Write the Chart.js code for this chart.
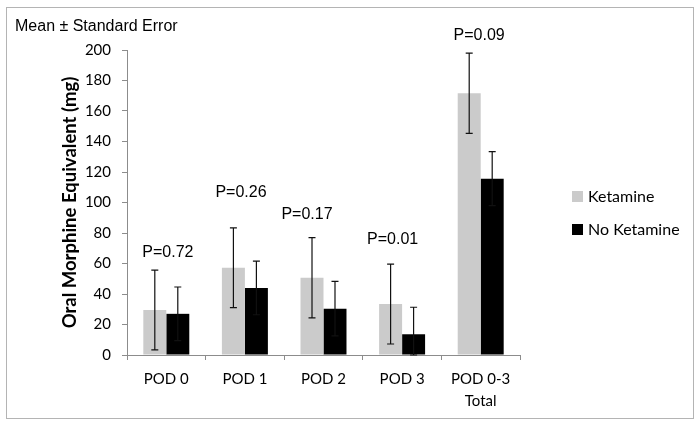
<!DOCTYPE html>
<html>
<head>
<meta charset="utf-8">
<script src="https://cdn.jsdelivr.net/npm/chart.js@4.4.0/dist/chart.umd.min.js"></script>
<style>
  html, body { margin: 0; padding: 0; background: #fff; }
  #frame {
    position: absolute; left: 6px; top: 7px;
    width: 686px; height: 410px;
    border: 1px solid #b4b4b4;
  }
  #chart { display: block; }
</style>
</head>
<body>
<div id="frame"><canvas id="chart" width="686" height="410"></canvas></div>
<script>
// values
const categories = [['POD 0'], ['POD 1'], ['POD 2'], ['POD 3'], ['POD 0-3', 'Total']];
const seriesNames = ['Ketamine', 'No Ketamine'];
const ketamineMean = [29.5, 57.2, 50.7, 33.4, 171.6];
const ketamineSE = [26.2, 26.1, 26.3, 26.2, 26.3];
const noKetamineMean = [27.0, 44.0, 30.4, 13.6, 115.6];
const noKetamineSE = [17.6, 17.6, 17.9, 17.7, 17.7];
const yTicks = [0, 20, 40, 60, 80, 100, 120, 140, 160, 180, 200];

// p-value annotations and their anchors in data space (category index, y value)
const pLabels = ['P=0.72', 'P=0.26', 'P=0.17', 'P=0.01', 'P=0.09'];
const pLabelX = [0.02, 0.95, 1.79, 2.88, 3.98];
const pLabelY = [67, 106.4, 91.8, 75.4, 209.4];

const errorSets = [ketamineSE, noKetamineSE];

// error bars drawn from the SE arrays through the y scale
const errorBars = {
    id: 'errorBars',
    afterDatasetsDraw(chart) {
        const ctx = chart.ctx;
        const y = chart.scales.y;
        ctx.save();
        ctx.strokeStyle = '#111';
        ctx.lineWidth = 1.2;
        chart.data.datasets.forEach((ds, i) => {
            const meta = chart.getDatasetMeta(i);
            meta.data.forEach((bar, j) => {
                const v = ds.data[j], se = errorSets[i][j];
                const top = y.getPixelForValue(v + se);
                const bot = y.getPixelForValue(Math.max(0, v - se));
                const cap = 3.5;
                ctx.beginPath();
                ctx.moveTo(bar.x, top); ctx.lineTo(bar.x, bot);
                ctx.moveTo(bar.x - cap, top); ctx.lineTo(bar.x + cap, top);
                ctx.moveTo(bar.x - cap, bot); ctx.lineTo(bar.x + cap, bot);
                ctx.stroke();
            });
        });
        ctx.restore();
    }
};

const pValueLabels = {
    id: 'pValueLabels',
    afterDraw(chart) {
        const ctx = chart.ctx;
        const x = chart.scales.x, y = chart.scales.y;
        ctx.save();
        ctx.font = '16px "Liberation Sans", Arial, sans-serif';
        ctx.fillStyle = '#000';
        ctx.textAlign = 'center';
        ctx.textBaseline = 'middle';
        pLabels.forEach((t, i) => {
            ctx.fillText(t, x.getPixelForValue(pLabelX[i]), y.getPixelForValue(pLabelY[i]));
        });
        ctx.restore();
    }
};

const sideLegend = {
    id: 'sideLegend',
    afterDraw(chart) {
        const ctx = chart.ctx;
        const left = chart.chartArea.right + 52;
        ctx.save();
        ctx.font = '16px Lato, "Open Sans", sans-serif';
        ctx.textBaseline = 'middle';
        chart.data.datasets.forEach((ds, i) => {
            const cy = 189 + i * 33;
            ctx.fillStyle = ds.backgroundColor;
            ctx.fillRect(left, cy - 6, 11, 11);
            ctx.fillStyle = '#000';
            ctx.fillText(ds.label, left + 16, cy);
        });
        ctx.restore();
    }
};

const chart = new Chart(document.getElementById('chart'), {
    type: 'bar',
    data: {
        labels: categories,
        datasets: [{
            label: seriesNames[0],
            data: ketamineMean,
            backgroundColor: '#cbcbcb',
            categoryPercentage: 0.585,
            barPercentage: 1.0
        }, {
            label: seriesNames[1],
            data: noKetamineMean,
            backgroundColor: '#000000',
            categoryPercentage: 0.585,
            barPercentage: 1.0
        }]
    },
    options: {
        responsive: false,
        animation: false,
        layout: { padding: { left: 8, right: 173, top: 0, bottom: 0 } },
        plugins: {
            legend: { display: false },
            tooltip: { enabled: false },
            title: {
                display: true,
                text: 'Mean \u00b1 Standard Error',
                align: 'start',
                color: '#000',
                font: { family: '"Liberation Sans", Arial, sans-serif', size: 16, weight: 'normal', lineHeight: 1.2 },
                padding: { top: 9.4, bottom: 13.4 }
            }
        },
        scales: {
            x: {
                grid: { display: true, drawOnChartArea: false, offset: true, tickLength: 5, color: '#8c8c8c' },
                border: { color: '#8c8c8c' },
                ticks: {
                    color: '#000',
                    padding: 8,
                    maxRotation: 0,
                    font: { family: 'Lato, "Open Sans", sans-serif', size: 15, lineHeight: 1.47 }
                },
                afterFit(scale) { scale.height = 63; }
            },
            y: {
                min: 0,
                max: 200,
                afterBuildTicks(scale) { scale.ticks = yTicks.map(v => ({ value: v })); },
                grid: { display: true, drawOnChartArea: false, tickLength: 5, color: '#8c8c8c' },
                border: { color: '#8c8c8c' },
                ticks: {
                    color: '#000',
                    padding: 11,
                    font: { family: 'Lato, "Open Sans", sans-serif', size: 15 }
                },
                title: {
                    display: true,
                    text: 'Oral Morphine Equivalent (mg)',
                    color: '#000',
                    padding: { top: 44, bottom: 0 },
                    font: { family: 'Lato, "Open Sans", sans-serif', size: 18.5, weight: 'bold', lineHeight: 1.2 }
                },
                afterFit(scale) { scale.width = 112; }
            }
        }
    },
    plugins: [errorBars, pValueLabels, sideLegend]
});
</script>
</body>
</html>
